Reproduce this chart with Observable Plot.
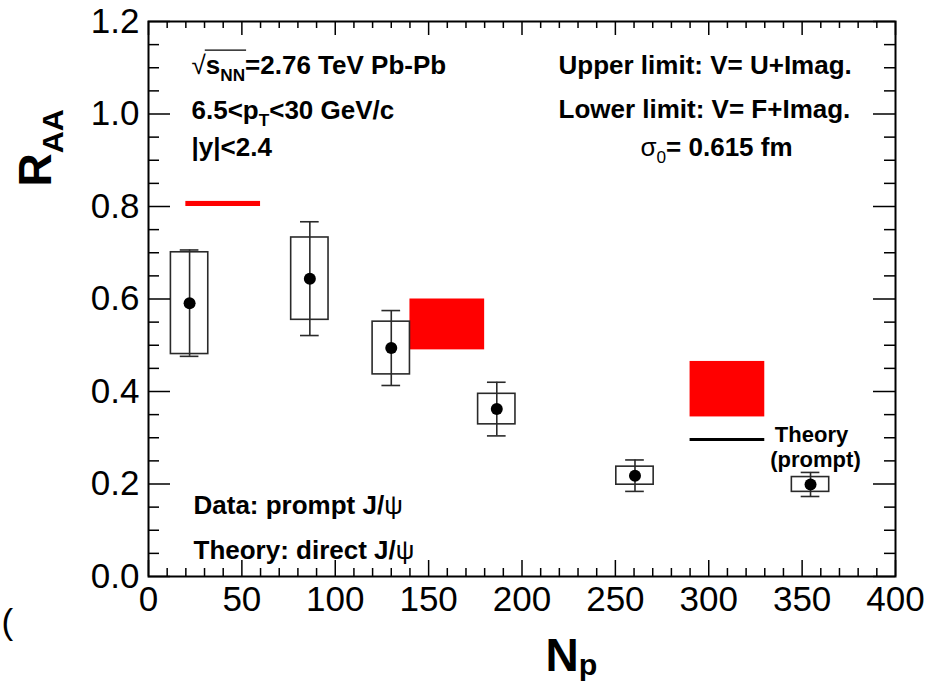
<!DOCTYPE html>
<html>
<head>
<meta charset="utf-8">
<script src="https://cdn.jsdelivr.net/npm/d3@7"></script>
<script src="https://cdn.jsdelivr.net/npm/@observablehq/plot@0.6"></script>
<style>
  html, body { margin: 0; padding: 0; background: #fff; overflow: hidden; }
  #chart svg { display: block; }
</style>
</head>
<body>
<div id="chart"></div>
<script>
// Prompt J/psi nuclear modification factor versus number of participants,
// Pb-Pb at 2.76 TeV, with potential-model theory bands.

// measured points
const npart   = [22, 86.4, 130, 186.5, 260.5, 354.5];
const raa     = [0.591, 0.644, 0.494, 0.362, 0.218, 0.199];
const statErr = [0.115, 0.123, 0.081, 0.058, 0.034, 0.026];
const systErr = [0.110, 0.089, 0.057, 0.033, 0.0195, 0.016];

// theory, direct J/psi: lower limit (V = F+Imag) and upper limit (V = U+Imag)
const theoryNpLo  = [20, 140, 290];
const theoryNpHi  = [60, 180, 330];
const theoryLower = [0.800, 0.490, 0.345];
const theoryUpper = [0.811, 0.600, 0.465];

// theory, prompt J/psi
const promptNpLo = [290];
const promptNpHi = [330];
const promptRaa  = [0.296];

// axes
const xTickValues = [0, 50, 100, 150, 200, 250, 300, 350, 400];
const xTickLabels = ["0", "50", "100", "150", "200", "250", "300", "350", "400"];
const yTickValues = [0, 0.2, 0.4, 0.6, 0.8, 1.0, 1.2];
const yTickLabels = ["0.0", "0.2", "0.4", "0.6", "0.8", "1.0", "1.2"];

const FONT = "'Liberation Sans', Arial, Helvetica, sans-serif";
const W = 946, H = 691;
const mL = 148, mR = 51, mT = 21, mB = 115;
const fw = W - mL - mR, fh = H - mT - mB;

const idx = d3.range(npart.length);
const th = d3.range(theoryNpLo.length);
const pr = d3.range(promptRaa.length);

// minor ticks: 5 per major interval on both axes
const xMinor = d3.range(0, 41).map(i => i * 10).filter(v => v % 50 !== 0);
const yMinor = d3.range(0, 25).filter(i => i % 4 !== 0).map(i => i * 0.05);

const BOX_HALF = 10;  // half-width of systematic boxes, in N_part units
const CAP_HALF = 5;   // half-width of error-bar caps

// annotation text placed relative to the frame's top-left corner (baseline given)
const note = (str, x, baseline, o = {}) =>
  Plot.text([str], {
    text: d => d,
    frameAnchor: "top-left",
    dx: x - mL,
    dy: baseline - mT,
    textAnchor: "start",
    lineAnchor: "bottom",
    fontSize: 26,
    fontWeight: "bold",
    ...o
  });

const plot = Plot.plot({
  width: W,
  height: H,
  marginLeft: mL,
  marginRight: mR,
  marginTop: mT,
  marginBottom: mB,
  style: { fontFamily: FONT, fontSize: "35px", background: "white", color: "black" },
  x: { domain: [0, 400] },
  y: { domain: [0, 1.2] },
  marks: [
    // theory bands
    Plot.rect(th, {
      x1: i => theoryNpLo[i], x2: i => theoryNpHi[i],
      y1: i => theoryLower[i], y2: i => theoryUpper[i],
      fill: "#ff0000"
    }),
    Plot.ruleY(pr, {
      x1: i => promptNpLo[i], x2: i => promptNpHi[i], y: i => promptRaa[i],
      stroke: "black", strokeWidth: 3
    }),

    // systematic boxes
    Plot.rect(idx, {
      x1: i => npart[i] - BOX_HALF, x2: i => npart[i] + BOX_HALF,
      y1: i => raa[i] - systErr[i], y2: i => raa[i] + systErr[i],
      fill: "none", stroke: "#2a2a2a", strokeWidth: 1.6
    }),
    // statistical error bars with caps
    Plot.ruleX(idx, {
      x: i => npart[i], y1: i => raa[i] - statErr[i], y2: i => raa[i] + statErr[i],
      stroke: "#2a2a2a", strokeWidth: 1.6
    }),
    Plot.ruleY(idx, {
      y: i => raa[i] + statErr[i], x1: i => npart[i] - CAP_HALF, x2: i => npart[i] + CAP_HALF,
      stroke: "#2a2a2a", strokeWidth: 1.6
    }),
    Plot.ruleY(idx, {
      y: i => raa[i] - statErr[i], x1: i => npart[i] - CAP_HALF, x2: i => npart[i] + CAP_HALF,
      stroke: "#2a2a2a", strokeWidth: 1.6
    }),
    Plot.dot(idx, { x: i => npart[i], y: i => raa[i], r: 6, fill: "black", stroke: "none" }),

    // inward ticks on all four sides
    Plot.tickX(xTickValues, { x: d => d, insetTop: fh - 16, stroke: "black", strokeWidth: 1.5 }),
    Plot.tickX(xMinor, { x: d => d, insetTop: fh - 8, stroke: "black", strokeWidth: 1.5 }),
    Plot.tickX(xTickValues, { x: d => d, insetBottom: fh - 14, stroke: "black", strokeWidth: 1.5 }),
    Plot.tickX(xMinor, { x: d => d, insetBottom: fh - 7, stroke: "black", strokeWidth: 1.5 }),
    Plot.tickY(yTickValues, { y: d => d, insetRight: fw - 22, stroke: "black", strokeWidth: 1.5 }),
    Plot.tickY(yMinor, { y: d => d, insetRight: fw - 11, stroke: "black", strokeWidth: 1.5 }),
    Plot.tickY(yTickValues, { y: d => d, insetLeft: fw - 22, stroke: "black", strokeWidth: 1.5 }),
    Plot.tickY(yMinor, { y: d => d, insetLeft: fw - 11, stroke: "black", strokeWidth: 1.5 }),

    Plot.frame({ stroke: "black", strokeWidth: 2 }),

    // tick labels
    Plot.axisX(xTickValues, {
      anchor: "bottom", tickSize: 0, tickPadding: 10, label: null,
      tickFormat: d => xTickLabels[xTickValues.indexOf(d)]
    }),
    Plot.axisY(yTickValues, {
      anchor: "left", tickSize: 0, tickPadding: 9, label: null,
      tickFormat: d => yTickLabels[yTickValues.indexOf(d)]
    }),

    // axis titles
    note("R{s|AA}", 50, 186, { fontSize: 46, rotate: -90 }),
    note("N{t|p}", 545, 670, { fontSize: 46 }),

    // kinematics
    note("{n|√}{o|s}{os|NN}=2.76 TeV Pb-Pb", 191, 73),
    note("6.5<p{s|T}<30 GeV/c", 191, 118),
    note("|y|<2.4", 191, 155),

    // model description
    note("Upper limit: V= U+Imag.", 558, 73),
    note("Lower limit: V= F+Imag.", 558, 117),
    note("{n|σ}{sn|0}= 0.615 fm", 640, 155),

    note("Data: prompt J/{n|ψ}", 193, 513),
    note("Theory: direct J/{n|ψ}", 193, 558),

    note("Theory", 811, 441, { fontSize: 22, textAnchor: "middle" }),
    note("(prompt)", 815, 466, { fontSize: 22, textAnchor: "middle" }),

    note("(", 1, 633, { fontSize: 35, fontWeight: "normal" })
  ]
});

document.getElementById("chart").append(plot);

// Expand the small inline markup {flags|text} into tspans:
//   s = subscript, t = slightly lowered subscript, n = normal weight, o = overline
const SVGNS = "http://www.w3.org/2000/svg";
function richText(el) {
  const src = el.textContent;
  if (!src.includes("{")) return;
  const fs = parseFloat(getComputedStyle(el).fontSize);
  while (el.firstChild) el.removeChild(el.firstChild);
  const re = /\{([a-z]*)\|([^}]*)\}|([^{]+)/g;
  let m, shift = 0, pos = 0;
  const over = [];
  while ((m = re.exec(src))) {
    const plain = m[3] != null;
    const flags = plain ? "" : m[1];
    const str = plain ? m[3] : m[2];
    const t = document.createElementNS(SVGNS, "tspan");
    t.textContent = str;
    let want = 0;
    if (flags.includes("s")) want = 0.27 * fs;
    else if (flags.includes("t")) want = 0.1 * fs;
    if (flags.includes("s") || flags.includes("t")) t.setAttribute("font-size", (0.66 * fs).toFixed(1));
    if (flags.includes("n")) t.setAttribute("font-weight", "normal");
    if (want !== shift) { t.setAttribute("dy", (want - shift).toFixed(2)); shift = want; }
    if (flags.includes("o")) over.push([pos, pos + str.length - 1]);
    pos += str.length;
    el.appendChild(t);
  }
  if (over.length) {
    const a = over[0][0], b = over[over.length - 1][1];
    const p0 = el.getStartPositionOfChar(a);
    const p1 = el.getEndPositionOfChar(b);
    const base = el.getStartPositionOfChar(0).y;
    const y = base - 0.9 * fs;
    const line = document.createElementNS(SVGNS, "line");
    line.setAttribute("x1", p0.x - 1);
    line.setAttribute("x2", p1.x + 1);
    line.setAttribute("y1", y);
    line.setAttribute("y2", y);
    line.setAttribute("stroke", "black");
    line.setAttribute("stroke-width", 1.3);
    const tr = el.getAttribute("transform");
    if (tr) line.setAttribute("transform", tr);
    el.parentNode.appendChild(line);
  }
}
d3.select(plot).selectAll("text").each(function () { richText(this); });
</script>
</body>
</html>
